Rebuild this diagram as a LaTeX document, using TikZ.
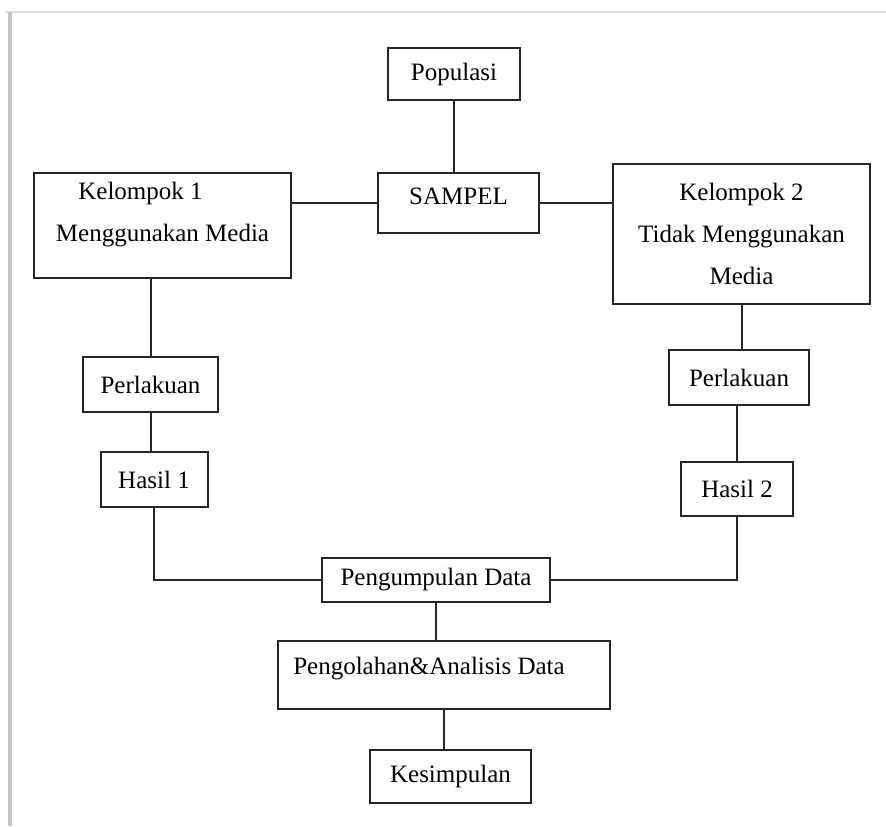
\documentclass[tikz,border=0pt]{standalone}
\usepackage{fontspec}
\setmainfont{Liberation Serif}
\begin{document}
\begin{tikzpicture}[x=0.5pt, y=-0.5pt,
    box/.style={rectangle, draw=black!85, line width=1pt, align=center, inner sep=2pt,
        font=\fontsize{12.5}{21}\selectfont},
    link/.style={draw=black!85, line width=1pt}]
        \useasboundingbox (0,0) rectangle (886,826);

        % Page shadow
        \draw[gray!25, line width=1.2pt] (5,12) -- (886,12);
        \draw[gray!45, line width=1.6pt] (10,12) -- (10,826);

        % Population and sample
        \node[box, minimum width=66pt, minimum height=26pt] (populasi) at (454, 74) {Populasi};
        \node[box, minimum width=80.5pt, minimum height=30pt, text depth=7pt] (sampel) at (458.5, 203) {SAMPEL};

        % Group 1
        \node[box, minimum width=128.5pt, minimum height=52.5pt, text depth=13pt] (kel1) at (162.5, 225) {
            Kelompok 1\hspace*{22pt}\\
            Menggunakan Media
        };
        \node[box, minimum width=67.5pt, minimum height=27.5pt] (perl1) at (150.5, 384.5) {Perlakuan};
        \node[box, minimum width=53.5pt, minimum height=27.5pt] (hasil1) at (154, 479.5) {Hasil 1};

        % Group 2
        \node[box, minimum width=128.5pt, minimum height=70pt] (kel2) at (741.5, 234) {
            Kelompok 2\\
            Tidak Menggunakan\\
            Media
        };
        \node[box, minimum width=70pt, minimum height=27.5pt] (perl2) at (739, 377.5) {Perlakuan};
        \node[box, minimum width=56pt, minimum height=27pt] (hasil2) at (737, 489) {Hasil 2};

        % Data collection and analysis
        \node[box, minimum width=114pt, minimum height=22pt] (kumpul) at (436, 580) {Pengumpulan Data};
        \node[box, minimum width=166pt, minimum height=34pt, text depth=9.6pt] (olah) at (444, 675) {Pengolahan\&Analisis Data\hspace*{15pt}};
        \node[box, minimum width=80.5pt, minimum height=26.5pt] (simpul) at (450.5, 776.5) {Kesimpulan};

        % Lines
        \draw[link] (populasi.south) -- (populasi.south |- sampel.north);
        \draw[link] (sampel.west) -- (sampel.west -| kel1.east);
        \draw[link] (sampel.east) -- (sampel.east -| kel2.west);
        \draw[link] (perl1.north) -- (perl1.north |- kel1.south);
        \draw[link] (perl1.south) -- (perl1.south |- hasil1.north);
        \draw[link] (hasil1.south) |- (kumpul.west);
        \draw[link] (kel2.south) -- (kel2.south |- perl2.north);
        \draw[link] (hasil2.north) -- (hasil2.north |- perl2.south);
        \draw[link] (hasil2.south) |- (kumpul.east);
        \draw[link] (kumpul.south) -- (kumpul.south |- olah.north);
        \draw[link] (olah.south) -- (olah.south |- simpul.north);
    \end{tikzpicture}
\end{document}
